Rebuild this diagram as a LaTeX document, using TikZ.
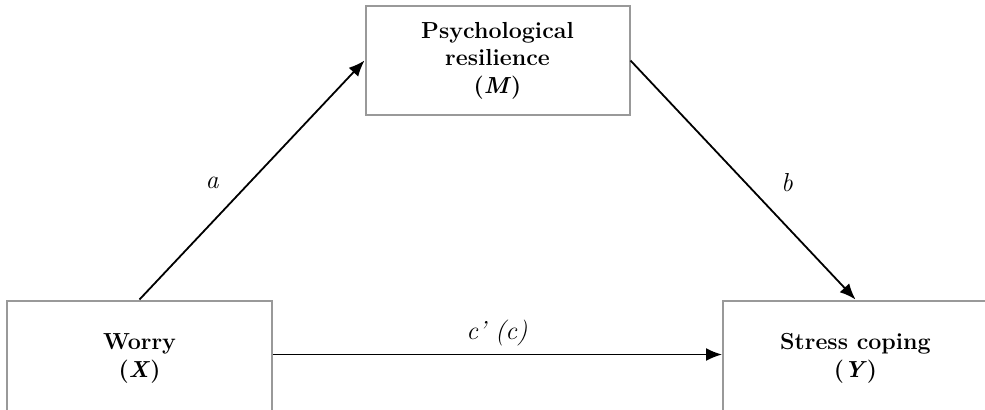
\documentclass[tikz,border=0pt]{standalone}
\usetikzlibrary{arrows.meta}
\begin{document}
\begin{tikzpicture}[x=0.5pt,y=-0.5pt,
  varbox/.style={draw=black!40, line width=1pt, fill=white, align=center,
    font=\fontsize{11.6}{13.75}\selectfont\bfseries, inner sep=0pt},
  arr/.style={draw=black, line width=0.9pt, -{Latex[length=8pt,width=6.5pt]}},
  lab/.style={font=\fontsize{13}{15}\selectfont\itshape, inner sep=0pt}]
\useasboundingbox (0,0) rectangle (985,409);
\clip (0,0) rectangle (985,409);
\node[varbox, minimum width=132pt, minimum height=54.5pt] (M) at (497.5,60.5)
  {Psychological\\resilience\\(\textit{M})};
\node[varbox, minimum width=132.5pt, minimum height=58pt] (X) at (139.5,358.5)
  {Worry\\(\textit{X})};
\node[varbox, minimum width=132.5pt, minimum height=58pt] (Y) at (855.5,358.5)
  {Stress coping\\(\textit{Y})};
\draw[arr] (X.north) -- (M.west);
\draw[arr] (M.east) -- (Y.north);
\draw[arr] ([yshift=2pt]X.east) -- ([yshift=2pt]Y.west);
\node[lab] (la) at (212,183) {a};
\node[lab] (lb) at (787,183) {b};
\node[lab] (lc) at (497,333) {c’ (c)};
\end{tikzpicture}
\end{document}
